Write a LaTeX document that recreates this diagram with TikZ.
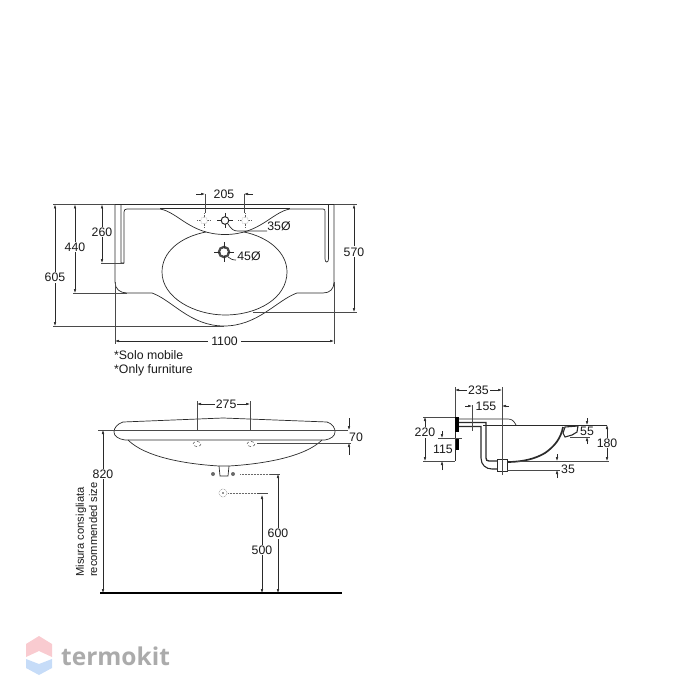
\documentclass[tikz,border=0pt]{standalone}
\usepackage{fontspec}
\setmainfont{Liberation Sans}
\newfontfamily\logofont{Open Sans}
\usetikzlibrary{arrows.meta}
\definecolor{inkgrey}{HTML}{2A2A2A}
\definecolor{logopink}{HTML}{F9CBD0}
\definecolor{logoblue}{HTML}{C6DCF8}
\definecolor{logogrey}{HTML}{ABABAB}
\tikzset{
  part/.style = {draw=inkgrey, line width=.7pt},
  extline/.style = {draw=inkgrey!85, line width=.5pt},
  dimline/.style = {draw=inkgrey, line width=.55pt, {Latex[length=4pt,width=2.6pt]}-{Latex[length=4pt,width=2.6pt]}},
  onearrow/.style = {draw=inkgrey, line width=.55pt, -{Latex[length=4pt,width=2.6pt]}},
  lbl/.style = {font=\fontsize{12.3}{14}\selectfont, text=black!90, inner sep=1pt},
  gaplbl/.style = {lbl, fill=white},
  dotline/.style = {draw=inkgrey!70, line width=.5pt, densely dotted},
  holemark/.style = {draw=inkgrey!75, line width=.5pt, densely dotted}
}
\begin{document}
\begin{tikzpicture}[x=1pt,y=-1pt]
    \useasboundingbox (0,0) rectangle (700,700);
    % top view
    \draw[part, line width=.9pt] (115,204.5) -- (334,204.5);
    \draw[part] (160,208.5) -- (290,208.5);
    \draw[part] (115,204.5) -- (115,282) .. controls (115,289) and (120,293) .. (127,293)
        -- (152,293) .. controls (172,300) and (190,326) .. (224,326)
        .. controls (258,326) and (277,300) .. (297,293) -- (323,293)
        .. controls (330,293) and (334,289) .. (334,282) -- (334,204.5);
    \draw[part] (121,204.5) -- (121,263) -- (124,263) -- (124,212) .. controls (124,210) and (125,209) .. (127,209)
        -- (160,209) .. controls (178,212) and (190,234.5) .. (225,234.5)
        .. controls (260,234.5) and (272,212) .. (290,209) -- (323,209)
        .. controls (325,209) and (325,210) .. (325,212) -- (325,259)
        .. controls (325,263) and (328.5,263) .. (328.5,259) -- (328.5,204.5);
    \draw[part] (206,232) .. controls (180,237) and (162,252) .. (162,272)
        .. controls (162,298) and (195,315) .. (225,315)
        .. controls (258,315) and (287,298) .. (287,272)
        .. controls (287,252) and (268,237) .. (244,232);
    % holes
    \draw[holemark] (204,220.5) circle (3.5);
    \draw[holemark] (245,220.5) circle (3.5);
    \draw[holemark] (197,220.5) -- (200,220.5) (208,220.5) -- (211,220.5) (204,213.5) -- (204,217) (204,224) -- (204,228);
    \draw[holemark] (238,220.5) -- (241,220.5) (249,220.5) -- (252,220.5) (245,213.5) -- (245,217) (245,224) -- (245,228);
    \draw[part, line width=1pt] (225,220.5) circle (3.8);
    \draw[part] (217,220.5) -- (221,220.5) (229,220.5) -- (233,220.5) (225,213) -- (225,217) (225,224) -- (225,228);
    \draw[part, draw=inkgrey!85, line width=2.4pt] (224,252) circle (5);
    \draw[part] (214,252) -- (234,252) (224,242) -- (224,262);
    \fill[white] (224,252) circle (3.6);
    % dimensions of the top view
    \coordinate (t605a) at (55,204.5);
    \coordinate (t605b) at (55,326);
    \coordinate (t440a) at (75,204.5);
    \coordinate (t440b) at (75,293);
    \coordinate (t260a) at (102,204.5);
    \coordinate (t260b) at (102,263);
    \coordinate (t570a) at (354,204.5);
    \coordinate (t570b) at (354,312);
    \coordinate (t1100a) at (115,341);
    \coordinate (t1100b) at (334,341);
    \draw[dimline] (t605a) -- node[gaplbl, pos=.6] {605} (t605b);
    \draw[dimline] (t440a) -- node[gaplbl, pos=.48] {440} (t440b);
    \draw[dimline] (t260a) -- node[gaplbl, pos=.47] {260} (t260b);
    \draw[dimline] (t570a) -- node[gaplbl, pos=.44] {570} (t570b);
    \draw[dimline] (t1100a) -- node[gaplbl, pos=.5, inner sep=3pt] {1100} (t1100b);
    \draw[extline] (53,204.5) -- (115,204.5) (334,204.5) -- (357,204.5);
    \draw[extline] (53,326) -- (224,326);
    \draw[extline] (73,293) -- (127,293);
    \draw[extline] (101,263) -- (124,263);
    \draw[extline] (253,312) -- (357,312);
    \draw[extline] (115,282) -- (115,344) (334,282) -- (334,344);
    \coordinate (t205a) at (196,194);
    \coordinate (t205b) at (205,194);
    \coordinate (t205c) at (253,194);
    \coordinate (t205d) at (244,194);
    \draw[onearrow] (t205a) -- (t205b);
    \draw[onearrow] (t205c) -- (t205d);
    \draw[extline] (205,194) -- (205,213) (244,194) -- (244,213);
    \node[lbl] (t205) at (224,194) {205};
    \node[lbl] (t35) at (279,226) {35Ø};
    \node[lbl] (t45) at (249,256) {45Ø};
    \draw[part] (228,224) .. controls (232,230) and (234,231) .. (238,231) -- (267,231);
    \draw[part] (228,257) .. controls (231,259) and (232,260) .. (236,260);
    \node[lbl, anchor=west, inner sep=0pt] (solo) at (114,355) {*Solo mobile};
    \node[lbl, anchor=west, inner sep=0pt] (only) at (114,370) {*Only furniture};
    % front view
    \draw[part] (123,422) -- (223,418) -- (327,422) .. controls (333,424) and (335,428) .. (335,432)
        .. controls (335,436) and (331,439) .. (325,440) -- (125,440)
        .. controls (118,439) and (114,436) .. (114,432) .. controls (114,428) and (117,424) .. (123,422);
    \draw[part] (128,440) .. controls (145,457) and (185,464) .. (219,466) -- (229,466)
        .. controls (263,464) and (305,457) .. (322,440);
    \draw[part] (219,466) -- (220,476) -- (228,476) -- (229,466);
    \draw[extline] (98,430) -- (348,430);
    \draw[part, densely dashed, line width=.4pt] (197,444) ellipse (4 and 2.5);
    \draw[part, densely dashed, line width=.4pt] (251,444) ellipse (4 and 2.5);
    \fill[inkgrey!70] (213,474) circle (2) (233,474) circle (2);
    \draw[holemark] (223,493) circle (4);
    \fill[inkgrey] (223,493) circle (.8);
    \coordinate (f275a) at (197,404);
    \coordinate (f275b) at (250,404);
    \coordinate (f820a) at (103,430);
    \coordinate (f820b) at (103,593);
    \coordinate (f600a) at (278,474);
    \coordinate (f600b) at (278,593);
    \coordinate (f500a) at (262,495);
    \coordinate (f500b) at (262,593);
    \draw[dimline] (f275a) -- node[gaplbl, pos=.55] {275} (f275b);
    \draw[dimline] (f820a) -- node[gaplbl, pos=.27] {820} (f820b);
    \draw[dimline] (f600a) -- node[gaplbl, pos=.5] {600} (f600b);
    \draw[dimline] (f500a) -- node[gaplbl, pos=.56] {500} (f500b);
    \draw[extline] (197,401) -- (197,430) (250,401) -- (250,430);
    \coordinate (f70a) at (349,418);
    \coordinate (f70b) at (349,430);
    \coordinate (f70c) at (349,455);
    \coordinate (f70d) at (349,443);
    \draw[onearrow] (f70a) -- (f70b);
    \draw[onearrow] (f70c) -- (f70d);
    \node[lbl] (f70) at (356,437) {70};
    \draw[dotline] (240,474) -- (270,474);
    \draw[extline] (270,474) -- (280,474);
    \draw[dotline] (228,493) -- (257,493);
    \draw[extline] (257,493) -- (268,493);
    \draw[extline] (257,443) -- (351,443);
    \draw[draw=black, line width=1.8pt] (100,593) -- (342,593);
    \node[lbl, font=\fontsize{11.2}{13}\selectfont, rotate=90, anchor=west, inner sep=0pt] (misura) at (81,577) {Misura consigliata};
    \node[lbl, font=\fontsize{11.2}{13}\selectfont, rotate=90, anchor=west, inner sep=0pt] (size) at (93,577) {recommended size};
    % side view
    \fill[black] (455,417) rectangle (459,432);
    \fill[black] (456,438) rectangle (459,450);
    \draw[part, line width=.5pt] (455,432) -- (455,461);
    \draw[part] (459,419) -- (508,419) .. controls (512,419) and (514,421) .. (516,425);
    \draw[part] (483,425) -- (607,425);
    \draw[part, line width=1.7pt] (563,427) .. controls (561,438) and (555,446) .. (545,453)
        .. controls (535,459) and (522,462) .. (507,462);
    \draw[part, line width=1.1pt, fill=white] (565,427) -- (578,426) -- (577,432) -- (572,435) -- (565,437) -- (563,433) -- cycle;
    % waste pipe
    \draw[part, line width=1.3pt] (459,422.5) -- (486,422.5) -- (486,458) .. controls (486,460) and (487,461) .. (489,461) -- (497,461);
    \draw[part, line width=1.1pt] (459,426.5) -- (481,426.5) -- (481,458) .. controls (481,465) and (486,469) .. (492,469) -- (497,469);
    \draw[part, fill=white, line width=.9pt] (497,459) rectangle (507,471);
    \coordinate (s235a) at (455,390);
    \coordinate (s235b) at (502,390);
    \coordinate (s220a) at (425,417);
    \coordinate (s220b) at (425,461);
    \coordinate (s180a) at (607,425);
    \coordinate (s180b) at (607,461);
    \draw[dimline] (s235a) -- node[gaplbl, pos=.5] {235} (s235b);
    \draw[dimline] (s220a) -- node[gaplbl, pos=.35] {220} (s220b);
    \draw[dimline] (s180a) -- node[gaplbl, pos=.5] {180} (s180b);
    \draw[extline] (455,387) -- (455,417) (502,387) -- (502,475);
    \draw[extline] (423,417) -- (455,417) (423,461) -- (455,461);
    \draw[extline] (517,461) -- (609,461);
    \draw[extline] (507,470) -- (560,470);
    \draw[extline] (570,437) -- (590,437);
    \draw[extline] (438,438) -- (462,438);
    \draw[extline] (472,405) -- (472,431);
    \coordinate (s155a) at (465,406);
    \coordinate (s155b) at (472,406);
    \coordinate (s155c) at (509,406);
    \coordinate (s155d) at (502,406);
    \draw[onearrow] (s155a) -- (s155b);
    \draw[onearrow] (s155c) -- (s155d);
    \node[lbl] (s155) at (486,406) {155};
    \coordinate (s115a) at (442,431);
    \coordinate (s115b) at (442,438);
    \coordinate (s115c) at (442,470);
    \coordinate (s115d) at (442,461);
    \draw[onearrow] (s115a) -- (s115b);
    \draw[onearrow] (s115c) -- (s115d);
    \node[lbl] (s115) at (443,449) {115};
    \coordinate (s55a) at (587,418);
    \coordinate (s55b) at (587,425);
    \coordinate (s55c) at (587,444);
    \coordinate (s55d) at (587,437);
    \draw[onearrow] (s55a) -- (s55b);
    \draw[onearrow] (s55c) -- (s55d);
    \node[lbl] (s55) at (587,431) {55};
    \coordinate (s35a) at (557,454);
    \coordinate (s35b) at (557,461);
    \coordinate (s35c) at (557,478);
    \coordinate (s35d) at (557,470);
    \draw[onearrow] (s35a) -- (s35b);
    \draw[onearrow] (s35c) -- (s35d);
    \node[lbl] (s35) at (568,469) {35};
    % logo
    \fill[logopink] (39,636) -- (52,644) -- (52,657) -- (39,651) -- (26,657) -- (26,644) -- cycle;
    \fill[logoblue] (26,659) -- (39,664) -- (52,659) -- (52,668) -- (39,675) -- (26,668) -- cycle;
    \node[font=\logofont\bfseries\fontsize{24.5}{26}\selectfont, text=logogrey, anchor=west, inner sep=0pt] (logo) at (61,656) {termokit};
\end{tikzpicture}
\end{document}
